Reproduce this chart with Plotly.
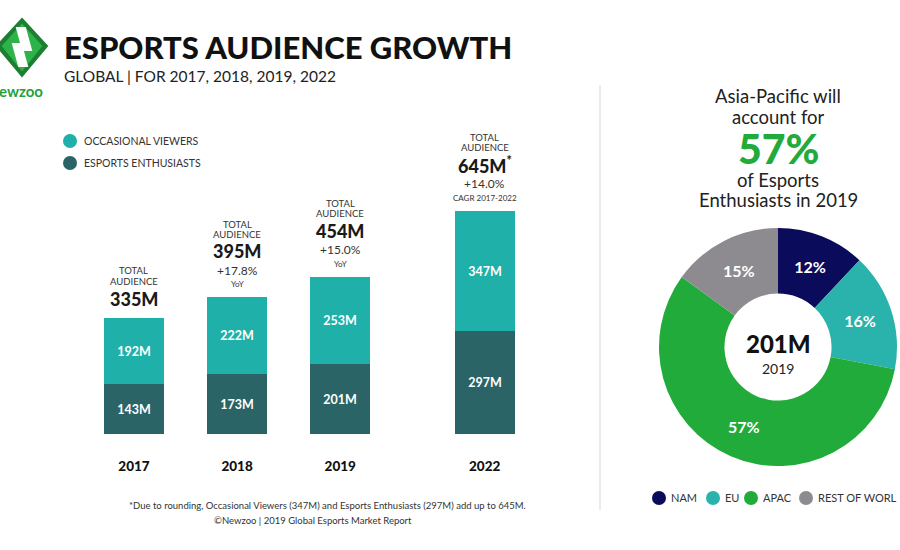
import plotly.graph_objects as go

# ---------------- data ----------------
years = ["2017", "2018", "2019", "2022"]
enthusiasts = [143, 173, 201, 297]
occasional = [192, 222, 253, 347]
totals = [335, 395, 454, 645]
total_labels = ["335M", "395M", "454M", "645M<sup>*</sup>"]
growth_labels = ["", "+17.8%", "+15.0%", "+14.0%"]
growth_notes = ["", "YoY", "YoY", "CAGR 2017-2022"]

regions = ["NAM", "EU", "APAC", "REST OF WORL"]
region_share = [12, 16, 57, 15]
pie_total_label = "201M"
pie_year = "2019"

# ---------------- styling / layout ----------------
W, H = 900, 550
FONT = "Lato"
C_OCC = "#1fb1a9"
C_ENT = "#2a6466"
REGION_COLORS = ["#0b0b5c", "#2ab3ac", "#21ab3b", "#8d8b8f"]
slot = [0, 1, 2, 3.4]  # horizontal slot of each year (gap before 2022)
HEAVY = 900

def px(x):
    return x / W

def py(y):
    return 1 - y / H

fig = go.Figure()

fig.add_trace(go.Bar(
    x=slot, y=enthusiasts, name="ESPORTS ENTHUSIASTS",
    marker=dict(color=C_ENT, line=dict(width=0)), width=0.58,
    text=[f"{v}M" for v in enthusiasts], textposition="inside",
    insidetextanchor="middle", textangle=0,
    textfont=dict(color="white", size=12.5, family=FONT, weight="bold"),
    showlegend=False, hoverinfo="skip"))
fig.add_trace(go.Bar(
    x=slot, y=occasional, name="OCCASIONAL VIEWERS",
    marker=dict(color=C_OCC, line=dict(width=0)), width=0.58,
    text=[f"{v}M" for v in occasional], textposition="inside",
    insidetextanchor="middle", textangle=0,
    textfont=dict(color="white", size=12.5, family=FONT, weight="bold"),
    showlegend=False, hoverinfo="skip"))

fig.add_trace(go.Pie(
    labels=regions, values=region_share, sort=False, direction="clockwise",
    rotation=0, hole=0.45,
    marker=dict(colors=REGION_COLORS, line=dict(width=0)),
    texttemplate="%{value}%", textinfo="text", textposition="inside",
    insidetextorientation="horizontal",
    textfont=dict(color="white", size=16, family=FONT, weight="bold"),
    domain=dict(x=[px(659), px(897)], y=[py(466), py(228)]),
    showlegend=False, hoverinfo="skip"))

ann = []

def add_text(x, y, text, size, color="#222", weight="normal", xanchor="center", **kw):
    ann.append(dict(x=px(x), y=py(y), xref="paper", yref="paper", text=text,
                    showarrow=False, xanchor=xanchor, yanchor="middle",
                    font=dict(family=FONT, size=size, color=color, weight=weight), **kw))

# Title
add_text(62, 47, "ESPORTS AUDIENCE GROWTH", 31, "#111", HEAVY, "left")
add_text(62, 76, "GLOBAL | FOR 2017, 2018, 2019, 2022", 15.5, "#222", "normal", "left")
add_text(-3, 91, "ewzoo", 15, "#22a33a", "bold", "left")

# bar legend
for yy, lab, col in [(141, "OCCASIONAL VIEWERS", C_OCC), (163, "ESPORTS ENTHUSIASTS", C_ENT)]:
    fig.add_shape(type="circle", xref="paper", yref="paper",
                  x0=px(63), x1=px(77), y0=py(yy + 7), y1=py(yy - 7),
                  fillcolor=col, line=dict(width=0))
    add_text(82, yy, lab, 10.5, "#333", "normal", "left")

# annotations above bars
for i in range(len(years)):
    base = dict(x=slot[i], y=totals[i], xref="x", yref="y", showarrow=False,
                xanchor="center", yanchor="middle")
    if growth_labels[i]:
        offs = [(13, growth_notes[i], 8, "normal"), (27, growth_labels[i], 12, "normal"),
                (46, total_labels[i], 18, HEAVY), (63, "AUDIENCE", 9.5, "normal"),
                (73, "TOTAL", 9.5, "normal")]
    else:
        offs = [(19, total_labels[i], 18, HEAVY), (36, "AUDIENCE", 9.5, "normal"),
                (47, "TOTAL", 9.5, "normal")]
    for dy, t, s, w in offs:
        a = dict(base)
        a.update(text=t, yshift=dy,
                 font=dict(family=FONT, size=s, color="#1a1a1a" if w == HEAVY else "#333", weight=w))
        ann.append(a)

# footnotes
add_text(327, 505, "*Due to rounding, Occasional Viewers (347M) and Esports Enthusiasts (297M) add up to 645M.", 9.5, "#333")
add_text(313, 520, "©Newzoo | 2019 Global Esports Market Report", 9.5, "#333")

# right panel text
add_text(778, 96, "Asia-Pacific will", 18.5, "#222", height=20)
add_text(778, 117, "account for", 18.5, "#222", height=20)
add_text(778, 148, "57%", 41, "#22ab3b", HEAVY, height=36)
add_text(778, 180, "of Esports", 18.5, "#222", height=20)
add_text(778, 200, "Enthusiasts in 2019", 18.5, "#222", height=20)
add_text(778, 343, pie_total_label, 24, "#111", HEAVY)
add_text(778, 368, pie_year, 14, "#222")

# pie legend
leg_x = [659, 713, 751, 806]
for i, lab in enumerate(regions):
    cx = leg_x[i]
    fig.add_shape(type="circle", xref="paper", yref="paper",
                  x0=px(cx - 7), x1=px(cx + 7), y0=py(498 + 7), y1=py(498 - 7),
                  fillcolor=REGION_COLORS[i], line=dict(width=0))
    add_text(cx + 10, 498, lab, 11, "#333", "normal", "left")

# separator
fig.add_shape(type="line", xref="paper", yref="paper", x0=px(600), x1=px(600),
              y0=py(85), y1=py(510), line=dict(color="#e4e4e4", width=1.5))

# logo
def poly(pts, color):
    d = "M " + " L ".join(f"{px(a)},{py(b)}" for a, b in pts) + " Z"
    fig.add_shape(type="path", xref="paper", yref="paper", path=d,
                  fillcolor=color, line=dict(color=color, width=2, ))

poly([(22, 19), (47, 46), (22, 76), (-3, 46)], "#1c7f31")
poly([(22, 25), (41, 46), (22, 70), (3, 46)], "#2db34a")
poly([(17, 28), (25, 28), (31, 50), (23, 50)], "#ffffff")
poly([(13, 44), (21, 44), (27, 66), (19, 66)], "#ffffff")

fig.update_layout(
    width=W, height=H, barmode="stack", bargap=0,
    paper_bgcolor="white", plot_bgcolor="white",
    margin=dict(l=0, r=0, t=0, b=0),
    annotations=ann,
    font=dict(family=FONT),
    xaxis=dict(domain=[px(70), px(560)], range=[-0.62, 4.13],
               tickvals=slot, ticktext=years, ticks="outside", ticklen=20,
               tickcolor="rgba(0,0,0,0)", showgrid=False, zeroline=False, showline=False,
               tickfont=dict(family=FONT, size=13.5, color="#111", weight=HEAVY),
               fixedrange=True),
    yaxis=dict(domain=[py(434), py(100)], range=[0, 334 / 0.3463], visible=False,
               showgrid=False, fixedrange=True),
)

fig.write_html("out.html", config={"displayModeBar": False},
               post_script="document.body.style.margin='0';document.body.style.overflow='hidden';")
